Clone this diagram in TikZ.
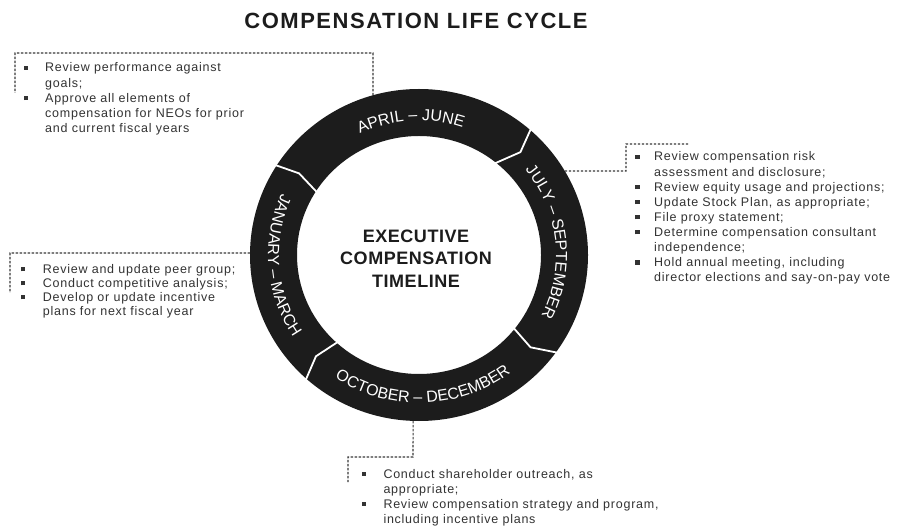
\documentclass[tikz,border=0pt]{standalone}
\usepackage{fontspec}
\setmainfont{Liberation Sans}
\newfontfamily\bodyfont[LetterSpace=6]{Liberation Sans}
\newfontfamily\titlefont[LetterSpace=7]{Liberation Sans}
\newfontfamily\centerfont[LetterSpace=3]{Liberation Sans}
\newfontfamily\ringfont{Liberation Sans}
\usetikzlibrary{decorations.text,calc}
\definecolor{ringblack}{HTML}{1C1C1C}
\definecolor{txtgray}{HTML}{333333}
\definecolor{dashgray}{HTML}{3A3A3A}
\newcommand{\bul}{\raisebox{2.1pt}{\rule{4.3pt}{4.3pt}}}
\tikzset{
  conn/.style={draw=dashgray, line width=1.1pt, dash pattern=on 2.4pt off 1.6pt},
  chev/.style={draw=white, line width=1.8pt, line join=miter, line cap=butt},
  bodytext/.style={anchor=base west, inner sep=0pt, text=txtgray, font=\bodyfont\fontsize{12.5}{15.1}\selectfont},
  ringlabel/.style={decorate, decoration={text along path, text align=center, text color=white, text={#1}}}
}
\begin{document}
\begin{tikzpicture}[x=1pt,y=1pt]
\useasboundingbox (0,0) rectangle (901,530);
\fill[white] (0,0) rectangle (901,530);

\coordinate (c) at (419,275);

% title
\node[font=\titlefont\bfseries\fontsize{22}{26}\selectfont, text=ringblack, inner sep=0pt] (title) at (416,509.2) {COMPENSATION LIFE CYCLE};

% ring anchor points
\coordinate (pTL) at ($(c)+(105.8:169pt and 166pt)$);
\coordinate (pR)  at ($(c)+(30.4:169pt and 166pt)$);
\coordinate (pL)  at ($(c)+(179.3:169pt and 166pt)$);
\coordinate (pB)  at ($(c)+(268:169pt and 166pt)$);

% connector corners
\coordinate (kTL1) at (373,477);
\coordinate (kTL2) at (15,477);
\coordinate (kTL3) at (15,437);
\coordinate (kR1) at (626,359);
\coordinate (kR2) at (626,386);
\coordinate (kR3) at (688,386);
\coordinate (kL1) at (10,277);
\coordinate (kL2) at (10,237);
\coordinate (kB1) at (413,73);
\coordinate (kB2) at (348,73);
\coordinate (kB3) at (348,48);

\draw[conn] (pTL) -- (kTL1) -- (kTL2) -- (kTL3);
\draw[conn] (pR) -- (kR1) -- (kR2) -- (kR3);
\draw[conn] (pL) -- (kL1) -- (kL2);
\draw[conn] (pB) -- (kB1) -- (kB2) -- (kB3);

% ring
\fill[ringblack, even odd rule] (c) ellipse [x radius=169pt, y radius=166pt]
                                (c) ellipse [x radius=122pt, y radius=119pt];

% chevrons
\draw[chev] ($(c)+(49.2:173pt and 170pt)$) -- ($(c)+(46.0:146pt and 143pt)$) -- ($(c)+(51.8:118pt and 115pt)$);
\draw[chev] ($(c)+(147.7:173pt and 170pt)$) -- ($(c)+(145.2:146pt and 143pt)$) -- ($(c)+(148.1:118pt and 115pt)$);
\draw[chev] ($(c)+(-35.3:173pt and 170pt)$) -- ($(c)+(-40.2:146pt and 143pt)$) -- ($(c)+(-38.1:118pt and 115pt)$);
\draw[chev] ($(c)+(-131.4:173pt and 170pt)$) -- ($(c)+(-134.9:146pt and 143pt)$) -- ($(c)+(-132:118pt and 115pt)$);

% ring labels
\path[ringlabel={|\ringfont\fontsize{16}{16}\selectfont|APRIL – JUNE}]
  ($(c)+(153.5:137pt and 134.5pt)$) arc[start angle=153.5, end angle=33.5, x radius=137pt, y radius=134.5pt];
\path[ringlabel={|\ringfont\fontsize{16}{16}\selectfont|JULY – SEPTEMBER}]
  ($(c)+(66.1:137pt and 134.5pt)$) arc[start angle=66.1, end angle=-53.9, x radius=137pt, y radius=134.5pt];
\path[ringlabel={|\ringfont\fontsize{16}{16}\selectfont|OCTOBER – DECEMBER}]
  ($(c)+(-148.2:151pt and 148pt)$) arc[start angle=-148.2, end angle=-28.2, x radius=151pt, y radius=148pt];
\path[ringlabel={|\ringfont\fontsize{16}{16}\selectfont|JANUARY – MARCH}]
  ($(c)+(124.5:151pt and 148pt)$) arc[start angle=124.5, end angle=244.5, x radius=151pt, y radius=148pt];

% centre text
\node[align=center, font=\centerfont\bfseries\fontsize{18}{22.5}\selectfont, text=ringblack, inner sep=0pt] (ctr) at (416,271.5) {EXECUTIVE\\COMPENSATION\\TIMELINE};

% text boxes
\node[bodytext] (boxTL) at (23.3,458) {\begin{tabular}[t]{@{}l@{\hspace{17.4pt}}l@{}}
\bul & Review performance against\\
     & goals;\\
\bul & Approve all elements of\\
     & compensation for NEOs for prior\\
     & and current fiscal years
\end{tabular}};

\node[bodytext] (boxR) at (635,369) {\begin{tabular}[t]{@{}l@{\hspace{14.7pt}}l@{}}
\bul & Review compensation risk\\
     & assessment and disclosure;\\
\bul & Review equity usage and projections;\\
\bul & Update Stock Plan, as appropriate;\\
\bul & File proxy statement;\\
\bul & Determine compensation consultant\\
     & independence;\\
\bul & Hold annual meeting, including\\
     & director elections and say-on-pay vote
\end{tabular}};

\node[bodytext, font=\bodyfont\fontsize{12.5}{14}\selectfont] (boxL) at (20.7,256.5) {\begin{tabular}[t]{@{}l@{\hspace{17.7pt}}l@{}}
\bul & Review and update peer group;\\
\bul & Conduct competitive analysis;\\
\bul & Develop or update incentive\\
     & plans for next fiscal year
\end{tabular}};

\node[bodytext, font=\bodyfont\fontsize{12.5}{15}\selectfont] (boxB) at (361.5,52) {\begin{tabular}[t]{@{}l@{\hspace{17.5pt}}l@{}}
\bul & Conduct shareholder outreach, as\\
     & appropriate;\\
\bul & Review compensation strategy and program,\\
     & including incentive plans
\end{tabular}};
\end{tikzpicture}
\end{document}
